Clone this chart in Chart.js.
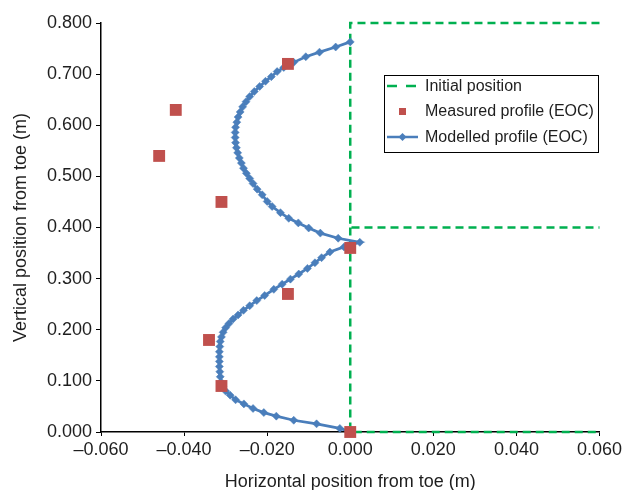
<!DOCTYPE html>
<html>
<head>
<meta charset="utf-8">
<script src="https://cdn.jsdelivr.net/npm/chart.js@4/dist/chart.umd.min.js"></script>
<style>
  html, body { margin: 0; padding: 0; background: #ffffff; }
  #wrap { width: 625px; height: 490px; }
</style>
</head>
<body>
<div id="wrap"><canvas id="c" width="625" height="490"></canvas></div>
<script>
// Initial position of the slope face (null breaks the polyline)
const initialX = [0.060, 0.000, 0.000, 0.060, null, 0.000, 0.000, 0.060];
const initialY = [0.800, 0.800, 0.400, 0.400, null, 0.400, 0.000, 0.000];

// Measured profile at end of construction
const measuredX = [-0.015, -0.042, -0.046, -0.031, 0.000, -0.015, -0.034, -0.031, 0.000];
const measuredY = [0.720, 0.630, 0.540, 0.450, 0.360, 0.270, 0.180, 0.090, 0.000];

// Modelled profile at end of construction
const modelledX = [
  0.0000, -0.0035, -0.0074, -0.0107, -0.0136, -0.0160, -0.0176, -0.0190, -0.0204, -0.0218,
  -0.0231, -0.0242, -0.0251, -0.0259, -0.0265, -0.0270, -0.0273, -0.0276, -0.0277, -0.0277,
  -0.0276, -0.0274, -0.0271, -0.0267, -0.0262, -0.0257, -0.0250, -0.0242, -0.0234, -0.0224,
  -0.0212, -0.0200, -0.0188, -0.0168, -0.0148, -0.0125, -0.0100, -0.0072, -0.0029, 0.0023,
  -0.0015, -0.0049, -0.0069, -0.0085, -0.0103, -0.0124, -0.0144, -0.0164, -0.0184, -0.0206,
  -0.0225, -0.0242, -0.0257, -0.0270, -0.0282, -0.0292, -0.0300, -0.0306, -0.0310, -0.0313,
  -0.0314, -0.0315, -0.0315, -0.0315, -0.0315, -0.0314, -0.0313, -0.0311, -0.0307, -0.0300,
  -0.0289, -0.0276, -0.0256, -0.0234, -0.0208, -0.0178, -0.0136, -0.0081, -0.0025, 0.0002
];
const modelledY = [
  0.763, 0.753, 0.743, 0.734, 0.723, 0.713, 0.705, 0.695, 0.686, 0.676,
  0.666, 0.656, 0.646, 0.636, 0.626, 0.616, 0.606, 0.596, 0.586, 0.576,
  0.566, 0.556, 0.546, 0.536, 0.526, 0.516, 0.506, 0.496, 0.486, 0.475,
  0.464, 0.451, 0.441, 0.429, 0.418, 0.409, 0.399, 0.389, 0.379, 0.371,
  0.362, 0.352, 0.341, 0.331, 0.320, 0.309, 0.299, 0.289, 0.279, 0.267,
  0.257, 0.247, 0.238, 0.229, 0.221, 0.212, 0.204, 0.195, 0.186, 0.177,
  0.167, 0.157, 0.147, 0.138, 0.128, 0.118, 0.108, 0.098, 0.089, 0.080,
  0.072, 0.063, 0.055, 0.046, 0.038, 0.031, 0.023, 0.016, 0.007, 0.000
];

// Axis tick values
const xTicks = [-0.060, -0.040, -0.020, 0.000, 0.020, 0.040, 0.060];
const yTicks = [0.000, 0.100, 0.200, 0.300, 0.400, 0.500, 0.600, 0.700, 0.800];

const seriesNames = ['Initial position', 'Measured profile (EOC)', 'Modelled profile (EOC)'];

const GREEN = '#00b050';
const RED = '#c0504d';
const BLUE = '#4a7ebb';
const INK = '#1e1e1e';
const FONT = '"Liberation Sans", Arial, Helvetica, sans-serif';

function toPoints(xs, ys) {
  return xs.map((x, i) => ({ x: x, y: ys[i] }));
}

function fmt(v) {
  if (Math.abs(v) < 1e-9) v = 0;
  const s = v.toFixed(3);
  return v < 0 ? '\u2013' + s.slice(1) : s;
}

// Boxed legend drawn inside the plot area
const boxLegend = {
  id: 'boxLegend',
  afterDraw(chart) {
    const ctx = chart.ctx;
    const left = 384.5, top = 75.5, w = 214, h = 77;
    ctx.save();
    ctx.fillStyle = '#ffffff';
    ctx.fillRect(left, top, w, h);
    ctx.strokeStyle = '#000000';
    ctx.lineWidth = 1;
    ctx.strokeRect(left, top, w, h);

    const rows = [86, 111.5, 137];
    const sx0 = 387, sx1 = 418, sxc = 402.5;

    // dashed line
    ctx.strokeStyle = GREEN;
    ctx.lineWidth = 2.5;
    ctx.setLineDash([10, 9]);
    ctx.beginPath();
    ctx.moveTo(sx0, rows[0]);
    ctx.lineTo(sx1, rows[0]);
    ctx.stroke();
    ctx.setLineDash([]);

    // square marker
    ctx.fillStyle = RED;
    ctx.fillRect(sxc - 3.5, rows[1] - 3.5, 7, 7);

    // line with diamond marker
    ctx.strokeStyle = BLUE;
    ctx.lineWidth = 2.5;
    ctx.beginPath();
    ctx.moveTo(sx0, rows[2]);
    ctx.lineTo(sx1, rows[2]);
    ctx.stroke();
    ctx.fillStyle = BLUE;
    ctx.beginPath();
    ctx.moveTo(sxc - 4, rows[2]);
    ctx.lineTo(sxc, rows[2] - 4);
    ctx.lineTo(sxc + 4, rows[2]);
    ctx.lineTo(sxc, rows[2] + 4);
    ctx.closePath();
    ctx.fill();

    ctx.fillStyle = INK;
    ctx.font = '16px ' + FONT;
    ctx.textBaseline = 'middle';
    ctx.textAlign = 'left';
    seriesNames.forEach((name, i) => ctx.fillText(name, 425, rows[i] + 0.5));
    ctx.restore();
  }
};

new Chart(document.getElementById('c'), {
  type: 'scatter',
  data: {
    datasets: [
      {
        label: seriesNames[0],
        data: toPoints(initialX, initialY),
        showLine: true,
        spanGaps: false,
        borderColor: GREEN,
        borderWidth: 2.5,
        borderDash: [8, 5],
        pointRadius: 0,
        pointHoverRadius: 0,
        clip: false,
        order: 3
      },
      {
        label: seriesNames[2],
        data: toPoints(modelledX, modelledY),
        showLine: true,
        borderColor: BLUE,
        backgroundColor: BLUE,
        borderWidth: 2.75,
        pointStyle: 'rectRot',
        pointRadius: 4,
        pointBorderWidth: 0.5,
        pointBorderColor: BLUE,
        pointBackgroundColor: BLUE,
        clip: false,
        order: 2
      },
      {
        label: seriesNames[1],
        data: toPoints(measuredX, measuredY),
        showLine: false,
        pointStyle: 'rect',
        pointRadius: 8.4,
        pointBorderWidth: 0,
        backgroundColor: RED,
        pointBackgroundColor: RED,
        clip: false,
        order: 1
      }
    ]
  },
  options: {
    responsive: false,
    animation: false,
    devicePixelRatio: 1,
    layout: { padding: { top: 23, right: 23, left: 0, bottom: 0 } },
    plugins: {
      legend: { display: false },
      tooltip: { enabled: false }
    },
    scales: {
      x: {
        type: 'linear',
        min: -0.060,
        max: 0.060,
        afterBuildTicks: (scale) => { scale.ticks = xTicks.map(v => ({ value: v })); },
        afterFit: (scale) => { scale.height = 58; },
        ticks: {
          color: INK,
          font: { family: FONT, size: 18 },
          padding: 3,
          maxRotation: 0,
          callback: (v) => fmt(v)
        },
        grid: { drawOnChartArea: false, drawTicks: true, tickLength: 4, color: '#000000', lineWidth: 1 },
        border: { display: true, color: '#000000', width: 1.5 },
        title: {
          display: true,
          text: 'Horizontal position from toe (m)',
          color: INK,
          font: { family: FONT, size: 18, lineHeight: 1 },
          padding: { top: 0, bottom: -1 }
        }
      },
      y: {
        type: 'linear',
        min: 0,
        max: 0.800,
        afterBuildTicks: (scale) => { scale.ticks = yTicks.map(v => ({ value: v })); },
        afterFit: (scale) => { scale.width = 101; },
        ticks: {
          color: INK,
          font: { family: FONT, size: 18 },
          padding: 4,
          callback: (v) => fmt(v)
        },
        grid: { drawOnChartArea: false, drawTicks: true, tickLength: 5, color: '#000000', lineWidth: 1 },
        border: { display: true, color: '#000000', width: 1.5 },
        title: {
          display: true,
          text: 'Vertical position from toe (m)',
          color: INK,
          font: { family: FONT, size: 18, lineHeight: 1.2 },
          padding: { top: 10, bottom: 0 }
        }
      }
    }
  },
  plugins: [boxLegend]
});
</script>
</body>
</html>
